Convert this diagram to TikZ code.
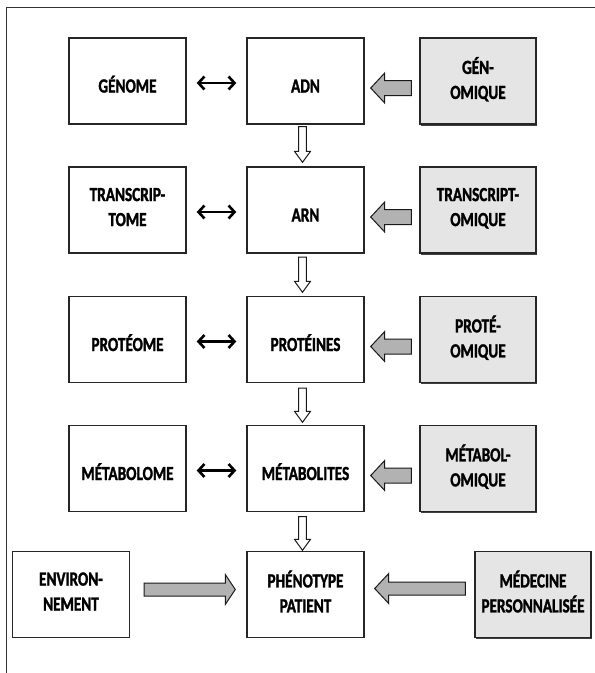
\documentclass[tikz,border=0pt]{standalone}
\usepackage{fontspec}
\newfontfamily\boxfont{Carlito}[FakeStretch=0.76, FakeBold=1.5]
\usetikzlibrary{calc,arrows.meta,shadows}

% horizontal block arrow: #1 style, #2 tail, #3 tip, #4 signed head length, #5 shaft half height, #6 head half height
\newcommand\harrow[6]{%
  \draw[#1] let \p1=#2, \p2=#3 in
    (\x1,\y1+#5) -- ({\x2+(#4)},\y1+#5) -- ({\x2+(#4)},\y1+#6) -- (\x2,\y1)
    -- ({\x2+(#4)},\y1-#6) -- ({\x2+(#4)},\y1-#5) -- (\x1,\y1-#5) -- cycle;}
% vertical block arrow (downwards): #4 head length (canvas, positive = above tip), #5 shaft half width, #6 head half width
\newcommand\varrow[6]{%
  \draw[#1] let \p1=#2, \p2=#3 in
    (\x1-#5,\y1) -- (\x1-#5,{\y2+(#4)}) -- (\x1-#6,{\y2+(#4)}) -- (\x1,\y2)
    -- (\x1+#6,{\y2+(#4)}) -- (\x1+#5,{\y2+(#4)}) -- (\x1+#5,\y1) -- cycle;}

\tikzset{
  boxbase/.style={draw=black!85, line width=1.4pt, minimum width=117pt, minimum height=86pt,
    inner sep=0pt, align=center, text=black,
    font=\boxfont\bfseries\fontsize{20}{25}\selectfont,
    execute at begin node={\rule{0pt}{29pt}},
    execute at end node={\rule[-6pt]{0pt}{6pt}}},
  wbox/.style={boxbase, fill=white},
  gbox/.style={boxbase, fill=black!10, minimum width=116pt,
    drop shadow={shadow xshift=1.3pt, shadow yshift=-1.6pt, fill=black!75, opacity=1}},
  dbl/.style={{Straight Barb[length=6pt,width=13pt]}-{Straight Barb[length=6pt,width=13pt]},
    line width=2.6pt, black},
  garrow/.style={fill=black!30, draw=black!90, line width=1pt, line join=miter},
  warrow/.style={fill=white, draw=black!90, line width=1pt, line join=miter},
  frameline/.style={draw=black!80, line width=0.9pt}
}

\begin{document}
\begin{tikzpicture}[x=1pt,y=-1pt]
\useasboundingbox (0,0) rectangle (595,673);
\fill[white] (0,0) rectangle (595,673);
\draw[frameline] (6,673) -- (6,7) -- (595,7);

% row 1
\node[wbox] (gen) at (127.5,81) {GÉNOME};
\node[wbox] (adn) at (305.5,81) {ADN};
\node[gbox] (gom) at (478,81) {GÉN-\\OMIQUE};
% row 2
\node[wbox] (tra) at (127.5,210) {TRANSCRIP-\\TOME};
\node[wbox] (arn) at (305.5,210) {ARN};
\node[gbox] (tom) at (478,210) {TRANSCRIPT-\\OMIQUE};
% row 3
\node[wbox] (pro) at (127.5,339.5) {PROTÉOME};
\node[wbox] (prt) at (305.5,339.5) {PROTÉINES};
\node[gbox] (prm) at (478,339.5) {PROTÉ-\\OMIQUE};
% row 4
\node[wbox] (met) at (127.5,468.5) {MÉTABOLOME};
\node[wbox] (mts) at (305.5,468.5) {MÉTABOLITES};
\node[gbox] (mtm) at (478,468.5) {MÉTABOL-\\OMIQUE};
% row 5
\node[wbox] (env) at (71,594.5) {ENVIRON-\\NEMENT};
\node[wbox] (phe) at (305.5,594.5) {PHÉNOTYPE\\PATIENT};
\node[gbox] (med) at (533,594.5) {MÉDECINE\\PERSONNALISÉE};

% double arrows
\foreach \a/\b in {gen/adn, tra/arn, pro/prt, met/mts}
  \draw[dbl, shorten <=10pt, shorten >=10pt] ([yshift=-2pt]\a.east) -- ([yshift=-2pt]\b.west);

% grey block arrows, rows 1-4
\foreach \a/\b in {gom/adn, tom/arn, prm/prt, mtm/mts}
  \harrow{garrow}{([xshift=-8pt,yshift=-7pt]\a.west)}{([xshift=6pt,yshift=-7pt]\b.east)}{14pt}{7.5pt}{15pt};

% row 5 grey arrows
\harrow{garrow}{([xshift=14pt,yshift=5pt]env.east)}{([xshift=-11pt,yshift=5pt]phe.west)}{-10pt}{6.5pt}{15pt}
\harrow{garrow}{([xshift=-9pt,yshift=6pt]med.west)}{([xshift=10pt,yshift=6pt]phe.east)}{14pt}{6.5pt}{15pt}

% white vertical arrows
\varrow{warrow}{([xshift=-3pt,yshift=-2pt]adn.south)}{([xshift=-3pt,yshift=4pt]arn.north)}{11pt}{3.8pt}{8pt}
\varrow{warrow}{([xshift=-3pt,yshift=-3.5pt]arn.south)}{([xshift=-3pt,yshift=3.5pt]prt.north)}{11pt}{3.8pt}{8pt}
\varrow{warrow}{([xshift=-3pt,yshift=-5pt]prt.south)}{([xshift=-3pt,yshift=2.5pt]mts.north)}{11pt}{3.8pt}{8pt}
\varrow{warrow}{([xshift=-3pt,yshift=-4.5pt]mts.south)}{([xshift=-3pt,yshift=0.5pt]phe.north)}{11pt}{3.8pt}{8pt}
\end{tikzpicture}
\end{document}
